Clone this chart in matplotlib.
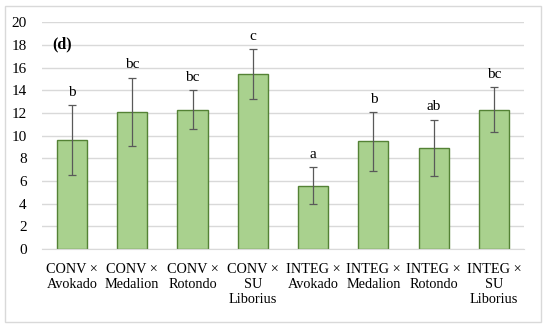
import matplotlib.pyplot as plt
from matplotlib.patches import Rectangle

labels = ["CONV ×\nAvokado", "CONV ×\nMedalion", "CONV ×\nRotondo", "CONV ×\nSU\nLiborius",
          "INTEG ×\nAvokado", "INTEG ×\nMedalion", "INTEG ×\nRotondo", "INTEG ×\nSU\nLiborius"]
means = [9.6, 12.1, 12.3, 15.4, 5.6, 9.5, 8.9, 12.3]
errors = [3.1, 3.0, 1.7, 2.2, 1.6, 2.6, 2.5, 1.95]
letters = ["b", "bc", "bc", "c", "a", "b", "ab", "bc"]

plt.rcParams['font.family'] = ['Liberation Serif', 'DejaVu Serif']

fig = plt.figure(figsize=(5.5, 3.3), dpi=100)
ax = fig.add_axes([0.076, 0.245, 0.877, 0.688])

# light frame around the whole chart
fig.patches.append(Rectangle((0.009, 0.024), 0.975, 0.958, transform=fig.transFigure,
                             fill=False, edgecolor='#d9d9d9', linewidth=1))

x = range(len(labels))
ax.bar(x, means, width=0.5, color='#a9d18e', edgecolor='#548235', linewidth=1, zorder=2)
ax.errorbar(x, means, yerr=errors, fmt='none', ecolor='#595959', elinewidth=0.9,
            capsize=3, capthick=0.9, zorder=3)

for i, (m, e, t) in enumerate(zip(means, errors, letters)):
    ax.text(i, m + e + 0.55, t, ha='center', va='bottom', fontsize=11)

ax.text(-0.33, 18, "(d)", fontsize=11.5, fontweight='bold', va='center')

ax.set_xlim(-0.5, 7.5)
ax.set_ylim(0, 20)
ax.set_yticks(range(0, 21, 2))
ax.set_xticks(list(x))
ax.set_xticklabels(labels, fontsize=10.3, linespacing=1.2)
ax.tick_params(axis='both', length=0)
ax.tick_params(axis='x', pad=10)
ax.tick_params(axis='y', pad=11, labelsize=11)
ax.grid(axis='y', color='#d9d9d9', linewidth=1, zorder=0)
ax.set_axisbelow(True)
for s in ['top', 'right', 'left']:
    ax.spines[s].set_visible(False)
ax.spines['bottom'].set_color('#d9d9d9')

plt.savefig("out.png", dpi=100)
